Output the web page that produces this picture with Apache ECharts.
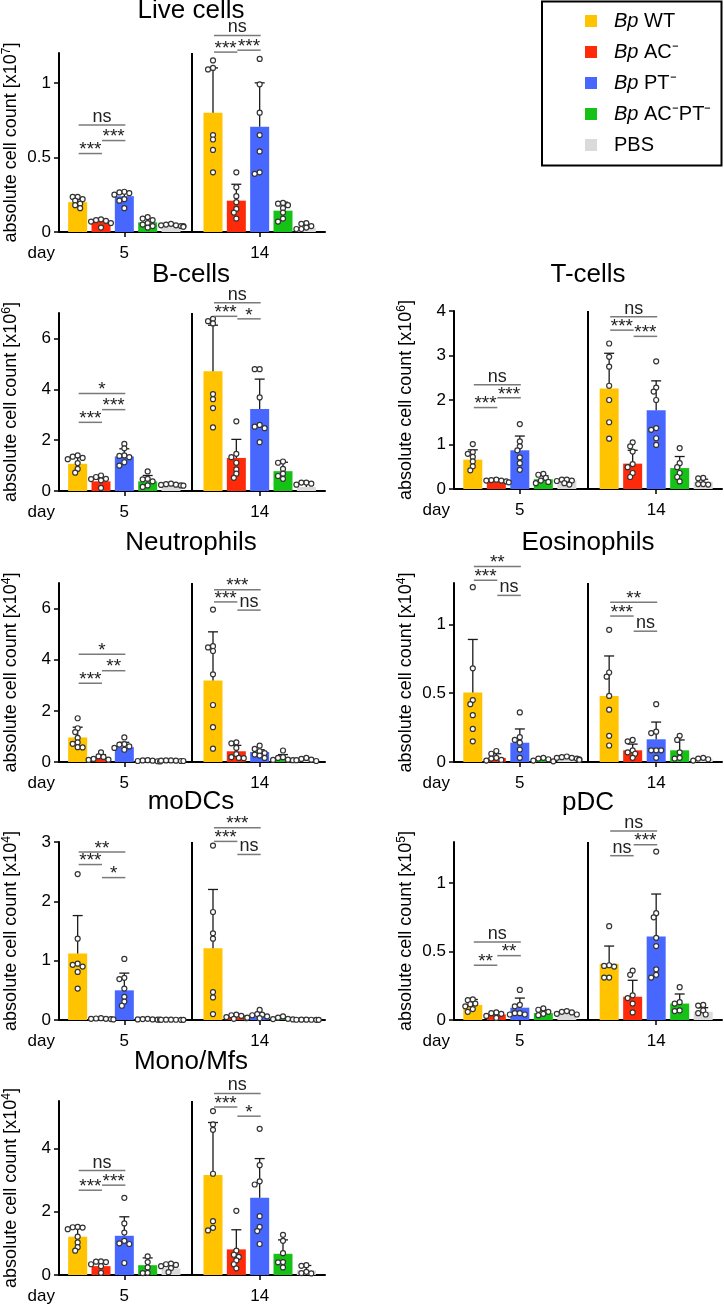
<!DOCTYPE html>
<html>
<head>
<meta charset="UTF-8">
<script src="https://cdn.jsdelivr.net/npm/echarts@6/dist/echarts.min.js"></script>
<style>
    html, body { margin: 0; padding: 0; background: #fff; }
    #main { width: 724px; height: 1305px; }
</style>
</head>
<body>
<div id="main"></div>
<script>
// groups and day labels
var groupNames = ['Bp WT', 'Bp AC\u207B', 'Bp PT\u207B', 'Bp AC\u207BPT\u207B', 'PBS'];
var dayLabels = ['5', '14'];

// Live cells [x10^7]  -- mean / error-bar top / single animals, [day5, day14]
var liveTicks = [0, 0.5, 1];
var liveMean = [[0.20, 0.07, 0.24, 0.065, 0.045], [0.80, 0.21, 0.705, 0.143, 0.03]];
var liveErr = [[0.22, 0.08, 0.27, 0.09, 0.05], [1.10, 0.32, 1.00, 0.20, 0.045]];
var livePts = [
    [[0.235, 0.235, 0.22, 0.21, 0.19, 0.18, 0.16], [0.085, 0.08, 0.075, 0.07, 0.06, 0.03], [0.27, 0.265, 0.26, 0.25, 0.22, 0.21, 0.16], [0.10, 0.09, 0.08, 0.06, 0.05, 0.04, 0.03], [0.055, 0.05, 0.045, 0.045, 0.04, 0.04, 0.035]],
    [[1.15, 1.10, 1.09, 0.65, 0.62, 0.55, 0.40], [0.40, 0.30, 0.24, 0.20, 0.155, 0.13, 0.09], [1.16, 0.99, 0.80, 0.65, 0.54, 0.40, 0.39], [0.195, 0.19, 0.18, 0.16, 0.13, 0.09, 0.07], [0.06, 0.055, 0.04, 0.03, 0.02, 0.02]]
];
// significance: [day, from group, to group, level, label]
var liveSig = [[0, 0, 1, 0.526, '***'], [0, 1, 2, 0.613, '***'], [0, 0, 2, 0.718, 'ns'], [1, 0, 1, 1.206, '***'], [1, 1, 2, 1.219, '***'], [1, 0, 2, 1.318, 'ns']];

// B-cells [x10^6]
var bTicks = [0, 2, 4, 6];
var bMean = [[1.07, 0.38, 1.36, 0.38, 0.25], [4.71, 1.30, 3.22, 0.78, 0.16]];
var bErr = [[1.32, 0.47, 1.66, 0.61, 0.27], [6.52, 2.03, 4.40, 1.13, 0.30]];
var bPts = [
    [[1.40, 1.35, 1.30, 1.25, 1.10, 0.87, 0.72], [0.61, 0.55, 0.48, 0.47, 0.42, 0.12], [1.85, 1.68, 1.40, 1.38, 1.33, 1.13, 1.0], [0.77, 0.48, 0.46, 0.38, 0.22, 0.16], [0.29, 0.27, 0.25, 0.24, 0.22, 0.21]],
    [[6.77, 6.68, 6.59, 3.81, 3.61, 3.26, 2.50], [2.74, 1.46, 1.33, 1.11, 0.85, 0.68, 0.52], [4.79, 4.79, 3.68, 2.60, 2.53, 2.47, 1.92], [1.16, 1.11, 0.87, 0.68, 0.59, 0.48], [0.33, 0.33, 0.29, 0.25]]
];
var bSig = [[0, 0, 1, 2.70, '***'], [0, 1, 2, 3.20, '***'], [0, 0, 2, 3.83, '*'], [1, 0, 1, 6.87, '***'], [1, 1, 2, 6.77, '*'], [1, 0, 2, 7.40, 'ns']];

// T-cells [x10^6]
var tTicks = [0, 1, 2, 3, 4];
var tMean = [[0.66, 0.16, 0.87, 0.22, 0.19], [2.26, 0.57, 1.77, 0.47, 0.16]];
var tErr = [[0.88, 0.20, 1.19, 0.30, 0.21], [3.05, 0.87, 2.43, 0.73, 0.22]];
var tPts = [
    [[1.01, 0.83, 0.79, 0.72, 0.62, 0.51, 0.42], [0.21, 0.20, 0.19, 0.19, 0.17, 0.15], [1.46, 1.07, 0.96, 0.87, 0.71, 0.58, 0.43], [0.34, 0.32, 0.25, 0.19, 0.16, 0.13], [0.21, 0.21, 0.19, 0.18, 0.13, 0.10]],
    [[3.27, 2.97, 2.75, 2.32, 2.00, 1.50, 1.13], [1.05, 0.96, 0.84, 0.56, 0.49, 0.36, 0.27], [2.87, 2.28, 2.19, 2.00, 1.37, 1.33, 1.14, 0.99], [0.92, 0.58, 0.49, 0.36, 0.27, 0.17], [0.25, 0.24, 0.11, 0.11, 0.10]]
];
var tSig = [[0, 0, 1, 1.83, '***'], [0, 1, 2, 2.05, '***'], [0, 0, 2, 2.34, 'ns'], [1, 0, 1, 3.57, '***'], [1, 1, 2, 3.43, '***'], [1, 0, 2, 3.87, 'ns']];

// Neutrophils [x10^4]
var nTicks = [0, 2, 4, 6];
var nMean = [[0.96, 0.16, 0.58, 0.05, 0.05], [3.19, 0.42, 0.39, 0.16, 0.08]];
var nErr = [[1.36, 0.29, 0.77, 0.07, 0.06], [5.09, 0.65, 0.48, 0.29, 0.12]];
var nPts = [
    [[1.71, 1.32, 1.17, 0.94, 0.77, 0.71, 0.58, 0.57], [0.38, 0.22, 0.20, 0.12, 0.09, 0.08], [0.96, 0.70, 0.68, 0.61, 0.55, 0.48], [0.07, 0.06, 0.05, 0.04, 0.03, 0.02], [0.06, 0.06, 0.05, 0.05, 0.04, 0.04]],
    [[5.96, 4.53, 4.48, 4.34, 3.43, 2.23, 1.36, 0.52], [0.77, 0.73, 0.55, 0.31, 0.19, 0.16, 0.15], [0.64, 0.51, 0.42, 0.35, 0.29, 0.25, 0.16], [0.45, 0.19, 0.16, 0.09, 0.08, 0.07], [0.16, 0.12, 0.09, 0.07, 0.04]]
];
var nSig = [[0, 0, 1, 3.08, '***'], [0, 1, 2, 3.57, '**'], [0, 0, 2, 4.21, '*'], [1, 0, 1, 6.26, '***'], [1, 1, 2, 5.94, 'ns'], [1, 0, 2, 6.74, '***']];

// Eosinophils [x10^4]
var eTicks = [0, 0.5, 1];
var eMean = [[0.505, 0.03, 0.14, 0.02, 0.03], [0.48, 0.085, 0.165, 0.085, 0.02]];
var eErr = [[0.89, 0.06, 0.24, 0.03, 0.035], [0.77, 0.13, 0.29, 0.16, 0.03]];
var ePts = [
    [[1.27, 0.68, 0.45, 0.42, 0.34, 0.24, 0.15], [0.08, 0.06, 0.03, 0.025, 0.015, 0.01], [0.36, 0.18, 0.16, 0.14, 0.09, 0.03], [0.03, 0.025, 0.02, 0.01, 0.005], [0.04, 0.035, 0.03, 0.03, 0.025, 0.02, 0.015]],
    [[0.96, 0.65, 0.62, 0.48, 0.38, 0.19, 0.12], [0.16, 0.15, 0.085, 0.07, 0.06, 0.03], [0.42, 0.22, 0.21, 0.085, 0.085, 0.085, 0.03], [0.19, 0.16, 0.07, 0.03, 0.025], [0.03, 0.025, 0.02, 0.01]]
];
var eSig = [[0, 0, 1, 1.32, '***'], [0, 1, 2, 1.21, 'ns'], [0, 0, 2, 1.42, '**'], [1, 0, 1, 1.06, '***'], [1, 1, 2, 0.95, 'ns'], [1, 0, 2, 1.16, '**']];

// moDCs [x10^4]
var mTicks = [0, 1, 2, 3];
var mMean = [[1.12, 0.01, 0.50, 0.01, 0.005], [1.21, 0.045, 0.055, 0.02, 0.005]];
var mErr = [[1.76, 0.02, 0.79, 0.015, 0.01], [2.20, 0.07, 0.10, 0.04, 0.01]];
var mPts = [
    [[2.46, 1.37, 0.95, 0.93, 0.90, 0.81, 0.53], [0.03, 0.025, 0.02, 0.02, 0.015, 0.01], [1.03, 0.71, 0.69, 0.53, 0.39, 0.31, 0.24], [0.02, 0.015, 0.01, 0.01, 0.005, 0.005], [0.005, 0.005, 0.004, 0.004, 0.003, 0.003]],
    [[2.94, 1.82, 1.46, 1.37, 0.47, 0.38, 0.10], [0.09, 0.08, 0.07, 0.05, 0.03, 0.02], [0.17, 0.10, 0.09, 0.08, 0.06, 0.04, 0.03], [0.06, 0.04, 0.02, 0.015, 0.01], [0.005, 0.005, 0.004, 0.004, 0.003, 0.003]]
];
var mSig = [[0, 0, 1, 2.62, '***'], [0, 1, 2, 2.40, '*'], [0, 0, 2, 2.83, '**'], [1, 0, 1, 3.01, '***'], [1, 1, 2, 2.79, 'ns'], [1, 0, 2, 3.24, '***']];

// pDC [x10^5]
var pTicks = [0, 0.5, 1];
var pMean = [[0.11, 0.04, 0.09, 0.05, 0.05], [0.41, 0.17, 0.61, 0.12, 0.06]];
var pErr = [[0.15, 0.05, 0.16, 0.07, 0.06], [0.54, 0.29, 0.92, 0.19, 0.09]];
var pPts = [
    [[0.15, 0.145, 0.12, 0.115, 0.10, 0.08, 0.06], [0.055, 0.05, 0.045, 0.03, 0.015], [0.22, 0.11, 0.10, 0.05, 0.05, 0.04, 0.04], [0.085, 0.075, 0.06, 0.045, 0.035], [0.065, 0.06, 0.055, 0.045, 0.04]],
    [[0.685, 0.40, 0.395, 0.39, 0.31, 0.31], [0.36, 0.33, 0.18, 0.16, 0.12, 0.055], [1.23, 0.78, 0.75, 0.60, 0.54, 0.37, 0.33, 0.31], [0.24, 0.13, 0.12, 0.07, 0.065], [0.11, 0.105, 0.07, 0.05, 0.04]]
];
var pSig = [[0, 0, 1, 0.40, '**'], [0, 1, 2, 0.47, '**'], [0, 0, 2, 0.57, 'ns'], [1, 0, 1, 1.20, 'ns'], [1, 1, 2, 1.28, '***'], [1, 0, 2, 1.38, 'ns']];

// Mono/Mfs [x10^4]
var moTicks = [0, 2, 4];
var moMean = [[1.21, 0.28, 1.24, 0.31, 0.21], [3.16, 0.81, 2.44, 0.67, 0.15]];
var moErr = [[1.49, 0.41, 1.84, 0.54, 0.33], [4.82, 1.43, 3.68, 1.11, 0.30]];
var moPts = [
    [[1.52, 1.51, 1.50, 1.45, 1.21, 1.03, 0.88, 0.77], [0.43, 0.42, 0.41, 0.34, 0.28, 0.07], [2.44, 1.63, 1.34, 1.08, 1.00, 0.98, 0.38], [0.59, 0.41, 0.24, 0.07, 0.06], [0.36, 0.34, 0.32, 0.28, 0.22, 0.09]],
    [[5.18, 4.76, 4.59, 3.20, 1.70, 1.49, 1.41], [2.03, 0.77, 0.64, 0.57, 0.46, 0.34, 0.21], [4.62, 3.47, 2.96, 2.86, 1.86, 1.52, 1.39, 0.98], [1.27, 1.08, 0.69, 0.41, 0.40, 0.24], [0.31, 0.29, 0.10, 0.06, 0.05]]
];
var moSig = [[0, 0, 1, 2.68, '***'], [0, 1, 2, 2.84, '***'], [0, 0, 2, 3.30, 'ns'], [1, 0, 1, 5.31, '***'], [1, 1, 2, 5.02, '*'], [1, 0, 2, 5.74, 'ns']];

var colors = ['#FFC300', '#FF2A0A', '#4767FF', '#17C217', '#DADADA'];
var FONT = "'Liberation Sans', Arial, sans-serif";

// bar positions on the x value axis (day 5 group, day 14 group) and divider
var xPos = [[1, 2, 3, 4, 5], [6.8, 7.8, 8.8, 9.8, 10.8]];
var xMin = 0.2, xMax = 11.6, divX = 5.9;
var gridW = 268;

var panels = [
    {title: 'Live cells', exp: '7', max: 1.2, ticks: liveTicks, mean: liveMean, err: liveErr, pts: livePts, sig: liveSig},
    {title: 'B-cells', exp: '6', max: 7, ticks: bTicks, mean: bMean, err: bErr, pts: bPts, sig: bSig},
    {title: 'T-cells', exp: '6', max: 4, ticks: tTicks, mean: tMean, err: tErr, pts: tPts, sig: tSig},
    {title: 'Neutrophils', exp: '4', max: 7, ticks: nTicks, mean: nMean, err: nErr, pts: nPts, sig: nSig},
    {title: 'Eosinophils', exp: '4', max: 1.3, ticks: eTicks, mean: eMean, err: eErr, pts: ePts, sig: eSig},
    {title: 'moDCs', exp: '4', max: 3, ticks: mTicks, mean: mMean, err: mErr, pts: mPts, sig: mSig},
    {title: 'pDC', exp: '5', max: 1.3, ticks: pTicks, mean: pMean, err: pErr, pts: pPts, sig: pSig},
    {title: 'Mono/Mfs', exp: '4', max: 5.5, ticks: moTicks, mean: moMean, err: moErr, pts: moPts, sig: moSig}
];
// grid left, grid top, grid height, title top
var layout = [
    [57, 53, 179, -2],
    [57, 313, 178, 262],
    [454, 311, 178, 262],
    [57, 583, 179, 530],
    [454, 583, 179, 530],
    [57, 842, 178, 789],
    [454, 842, 178, 790],
    [57, 1101, 177, 1049]
];

// simple beeswarm: spread dots sideways when they would overlap (in pixels)
var swarm = function (vals, pxPerUnit) {
    var placed = [];
    var cands = [0, -2.5, 2.5, -5, 5, -7.5, 7.5, -10, 10, -12.5, 12.5];
    vals.slice().sort(function (a, b) { return b - a; }).forEach(function (v) {
        var py = v * pxPerUnit;
        for (var i = 0; i < cands.length; i++) {
            var ok = placed.every(function (q) {
                var dx = q[0] - cands[i], dy = q[1] - py;
                return dx * dx + dy * dy >= 18;
            });
            if (ok || i === cands.length - 1) {
                placed.push([cands[i], py, v]);
                break;
            }
        }
    });
    return placed;
};

var grids = [], xAxes = [], yAxes = [], series = [], titles = [];
var unitPerPx = (xMax - xMin) / gridW;

panels.forEach(function (p, k) {
    var L = layout[k];
    grids.push({left: L[0], top: L[1], width: gridW, height: L[2]});
    titles.push({
        text: p.title, left: L[0] + gridW / 2, top: L[3], textAlign: 'center', padding: 0,
        textStyle: {fontSize: 26, fontWeight: 'normal', color: '#000', fontFamily: FONT}
    });
    xAxes.push({
        gridIndex: k, type: 'value', min: xMin, max: xMax,
        name: 'day', nameLocation: 'start', nameGap: 4,
        nameTextStyle: {fontSize: 17, color: '#000', fontFamily: FONT, align: 'right', verticalAlign: 'top', padding: [13, 0, 0, 0]},
        axisLine: {onZero: false, lineStyle: {color: '#000', width: 2}},
        axisTick: {customValues: [xPos[0][2], xPos[1][2]], length: 5, lineStyle: {color: '#000', width: 1.5}},
        axisLabel: {
            customValues: [xPos[0][2], xPos[1][2]], margin: 13, fontSize: 17, color: '#000', fontFamily: FONT,
            formatter: function (v) { return v < divX ? dayLabels[0] : dayLabels[1]; }
        },
        splitLine: {show: false}
    });
    yAxes.push({
        gridIndex: k, type: 'value', min: 0, max: p.max,
        name: '{t|absolute cell count [x10}{s|' + p.exp + '}{t|]}',
        nameLocation: 'middle', nameGap: 38,
        nameTextStyle: {
            color: '#000', fontFamily: FONT,
            rich: {
                t: {fontSize: 18, lineHeight: 20, color: '#000', fontFamily: FONT},
                s: {fontSize: 12, lineHeight: 20, verticalAlign: 'top', color: '#000', fontFamily: FONT}
            }
        },
        axisLine: {show: true, onZero: false, lineStyle: {color: '#000', width: 2}},
        axisTick: {show: true, customValues: p.ticks, length: 5, lineStyle: {color: '#000', width: 1.5}},
        axisLabel: {customValues: p.ticks, margin: 8, fontSize: 17, color: '#000', fontFamily: FONT},
        splitLine: {show: false}
    });

    // bars
    groupNames.forEach(function (g, gi) {
        var s = {
            type: 'bar', name: g, xAxisIndex: k, yAxisIndex: k,
            barWidth: 19, barGap: '-100%', z: 2, silent: true,
            itemStyle: {color: colors[gi]},
            data: [[xPos[0][gi], p.mean[0][gi]], [xPos[1][gi], p.mean[1][gi]]]
        };
        if (gi === 0) {
            s.markLine = {
                silent: true, symbol: 'none', label: {show: false},
                lineStyle: {color: '#000', width: 2, type: 'solid'},
                data: [{xAxis: divX}]
            };
        }
        series.push(s);
    });

    // error bars (upper SD)
    var errData = [];
    [0, 1].forEach(function (d) {
        for (var gi = 0; gi < 5; gi++) errData.push([xPos[d][gi], p.mean[d][gi], p.err[d][gi]]);
    });
    series.push({
        type: 'custom', xAxisIndex: k, yAxisIndex: k, z: 3, silent: true, data: errData,
        renderItem: function (params, api) {
            var b = api.coord([api.value(0), api.value(1)]);
            var t = api.coord([api.value(0), api.value(2)]);
            var st = {stroke: '#1a1a1a', lineWidth: 1.3};
            return {
                type: 'group', children: [
                    {type: 'line', shape: {x1: b[0], y1: b[1], x2: t[0], y2: t[1]}, style: st},
                    {type: 'line', shape: {x1: t[0] - 5, y1: t[1], x2: t[0] + 5, y2: t[1]}, style: st}
                ]
            };
        }
    });

    // single animals
    var pxPerUnit = L[2] / p.max;
    var dots = [];
    [0, 1].forEach(function (d) {
        p.pts[d].forEach(function (vals, gi) {
            swarm(vals, pxPerUnit).forEach(function (q) {
                dots.push([xPos[d][gi] + q[0] * unitPerPx, q[2]]);
            });
        });
    });
    series.push({
        type: 'scatter', xAxisIndex: k, yAxisIndex: k, z: 4, silent: true,
        symbol: 'circle', symbolSize: 5,
        itemStyle: {color: '#fff', borderColor: '#333', borderWidth: 1.2, opacity: 1},
        data: dots
    });

    // significance brackets
    series.push({
        type: 'custom', xAxisIndex: k, yAxisIndex: k, z: 5, silent: true, clip: false,
        data: p.sig.map(function (s) { return [xPos[s[0]][s[1]], xPos[s[0]][s[2]], s[3]]; }),
        renderItem: function (params, api) {
            var s = p.sig[params.dataIndex];
            var a = api.coord([api.value(0), api.value(2)]);
            var b = api.coord([api.value(1), api.value(2)]);
            var star = s[4] !== 'ns';
            return {
                type: 'group', children: [
                    {type: 'line', shape: {x1: a[0] + 1, y1: a[1], x2: b[0] + 1, y2: b[1]}, style: {stroke: '#7a7a7a', lineWidth: 1.5}},
                    {type: 'text', style: {
                        text: s[4], x: (a[0] + b[0]) / 2 + 1, y: a[1] + (star ? 6 : 1),
                        align: 'center', verticalAlign: 'bottom',
                        fontSize: star ? 19 : 18, fill: '#222', fontFamily: FONT
                    }}
                ]
            };
        }
    });
});

var myChart = echarts.init(document.getElementById('main'));
myChart.setOption({
    animation: false,
    backgroundColor: '#fff',
    title: titles,
    grid: grids,
    xAxis: xAxes,
    yAxis: yAxes,
    legend: {
        data: groupNames, orient: 'vertical', left: 585, top: 9, padding: 0,
        icon: 'rect', itemWidth: 12, itemHeight: 12, itemGap: 7,
        selectedMode: false,
        formatter: function (name) {
            return name.indexOf('Bp ') === 0 ? '{i|Bp} ' + name.slice(3) : name;
        },
        textStyle: {
            fontSize: 20, lineHeight: 24, color: '#000', fontFamily: FONT, padding: [0, 0, 0, 12],
            rich: {i: {fontSize: 20, lineHeight: 24, fontStyle: 'italic', color: '#000', fontFamily: FONT}}
        }
    },
    graphic: [{
        type: 'rect', silent: true,
        shape: {x: 542, y: 1.5, width: 179.5, height: 164},
        style: {fill: 'none', stroke: '#000', lineWidth: 2}
    }],
    series: series
});
</script>
</body>
</html>
